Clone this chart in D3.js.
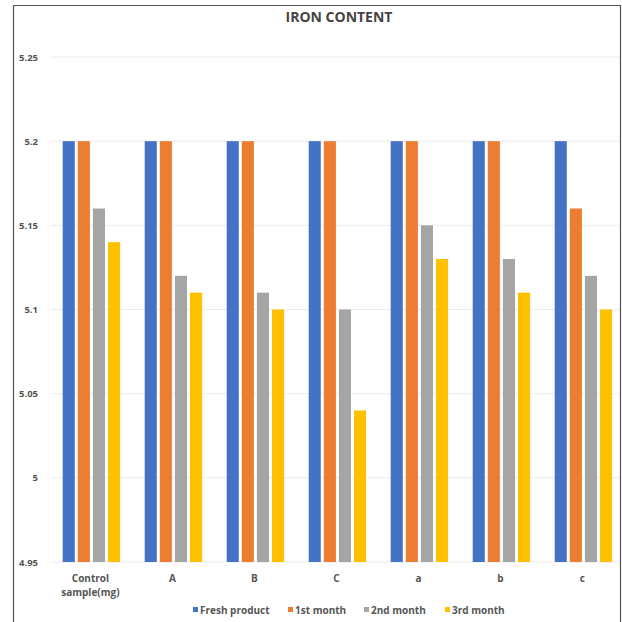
<!DOCTYPE html>
<html><head><meta charset="utf-8">
<script src="https://cdn.jsdelivr.net/npm/d3@7"></script>
<style>body{margin:0;background:#fff}svg{display:block}</style>
</head><body>
<script>
const categories = ["Control sample(mg)", "A", "B", "C", "a", "b", "c"];
const seriesNames = ["Fresh product", "1st month", "2nd month", "3rd month"];
const freshProduct = [5.2, 5.2, 5.2, 5.2, 5.2, 5.2, 5.2];
const month1 = [5.2, 5.2, 5.2, 5.2, 5.2, 5.2, 5.16];
const month2 = [5.16, 5.12, 5.11, 5.1, 5.15, 5.13, 5.12];
const month3 = [5.14, 5.11, 5.1, 5.04, 5.13, 5.11, 5.1];
const yTicks = [4.95, 5, 5.05, 5.1, 5.15, 5.2, 5.25];
const colors = ["#4472C4", "#ED7D31", "#A5A5A5", "#FFC000"];

const W = 622, H = 622;
const svg = d3.select("body").append("svg").attr("width", W).attr("height", H);
const font = "'Open Sans', 'Liberation Sans', sans-serif";

// frame
svg.append("path").attr("d", `M13.5,622 V5.5 H620.5 V622`).attr("fill","none").attr("stroke","#555").attr("stroke-width",1.2);

const y = d3.scaleLinear().domain([4.95, 5.25]).range([562, 57]);
const x = d3.scaleBand().domain(categories).range([50.4, 624.4]).paddingInner(0).paddingOuter(0);
const x1 = d3.scaleBand().domain(seriesNames).range([12.3, 69.7]).paddingInner(0.2).paddingOuter(0);

// gridlines
svg.append("g").selectAll("line").data(yTicks).join("line")
  .attr("x1", 50).attr("x2", 620).attr("y1", d => y(d)).attr("y2", d => y(d))
  .attr("stroke", "#ececec").attr("stroke-width", 1);

// y axis labels
const yAxis = d3.axisLeft(y).tickValues(yTicks).tickSize(0).tickPadding(0).tickFormat(d => String(+d.toFixed(2)));
const yg = svg.append("g").attr("transform", "translate(38,0)").call(yAxis);
yg.select(".domain").remove();
yg.selectAll("text").attr("font-family", font).attr("font-size", 9.5).attr("font-weight", "bold").attr("fill", "#555");

// bars
const allSeries = [freshProduct, month1, month2, month3];
const rows = [];
categories.forEach((c, i) => seriesNames.forEach((s, j) => rows.push({c, s, j, v: allSeries[j][i]})));
svg.append("g").selectAll("rect").data(rows).join("rect")
  .attr("x", d => x(d.c) + x1(d.s))
  .attr("width", x1.bandwidth())
  .attr("y", d => y(d.v))
  .attr("height", d => y(4.95) - y(d.v))
  .attr("fill", d => colors[d.j]);

// x axis labels
const xAxis = d3.axisBottom(x).tickSize(0).tickPadding(0).tickFormat(() => "");
const xg = svg.append("g").attr("transform", "translate(0,562)").call(xAxis);
xg.select(".domain").remove();
xg.selectAll(".tick").each(function(d) {
  const t = d3.select(this).append("text").attr("fill", "#555").attr("font-family", font)
    .attr("font-size", 10).attr("font-weight", "bold").attr("text-anchor", "middle");
  const lines = d === "Control sample(mg)" ? ["Control", "sample(mg)"] : [d];
  lines.forEach((l, k) => t.append("tspan").attr("x", -1).attr("y", 20 + k * 14).text(l));
});

// title
svg.append("text").attr("x", 339).attr("y", 22).attr("text-anchor", "middle")
  .attr("font-family", font).attr("font-size", 14).attr("font-weight", "bold").attr("fill", "#444")
  .text("IRON CONTENT");

// legend
const legendX = [193, 288, 364, 445];
const lg = svg.append("g").selectAll("g").data(seriesNames).join("g")
  .attr("transform", (d, i) => `translate(${legendX[i]},610)`);
lg.append("rect").attr("x", 0).attr("y", -3).attr("width", 5).attr("height", 5).attr("fill", (d, i) => colors[i]);
lg.append("text").attr("x", 7).attr("y", 3.5).attr("font-family", font).attr("font-size", 10)
  .attr("font-weight", "bold").attr("fill", "#555").text(d => d);
</script>
</body></html>
